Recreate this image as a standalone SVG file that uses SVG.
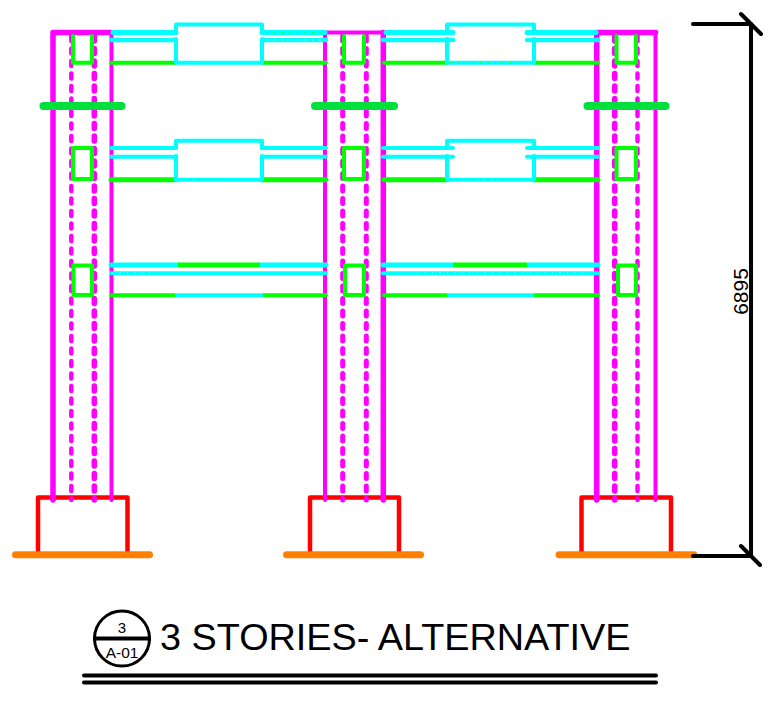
<svg xmlns="http://www.w3.org/2000/svg" width="780" height="709" viewBox="0 0 780 709">
<defs><style>
.l{fill:none;stroke-linecap:round;stroke-linejoin:round}
.m{stroke:#ff00ff}
.d{stroke:#ff00ff;stroke-dasharray:5 7.500}
.c{stroke:#00ffff}
.g{stroke:#00ff00}
.s{stroke:#00e03c;stroke-width:8}
.r{stroke:#ff0000;stroke-width:4.500}
.o{stroke:#ff8000;stroke-width:7}
.k{stroke:#000}
.t{font-family:"Liberation Sans",Arial,sans-serif;fill:#000}
.tc{stroke:#00ff00;stroke-width:1;stroke-dasharray:1 6.500;fill:none}
.tw{stroke:#fff;stroke-width:1;stroke-dasharray:1 6.500;fill:none}
</style></defs>
<rect width="780" height="709" fill="#fff"/>
<g id="footings" class="l">
<path class="r" d="M38 553V497.500H127.500V553"/>
<path class="r" d="M310 553V497.500H399V553"/>
<path class="r" d="M581.500 553V497.500H671V553"/>
</g>
<g id="columns" class="l">
<g id="column-1">
<path class="m" stroke-width="5.500" d="M53 500V32.500H111"/>
<path class="m" stroke-width="4" d="M111.500 32.500V500"/>
<path class="d" stroke-width="4.500" d="M71.300 36V500"/>
<path class="d" stroke-width="5.500" d="M94.300 36V500"/>
</g>
<g id="column-2">
<path class="m" stroke-width="4" d="M325 500V32.500H384"/>
<path class="m" stroke-width="5.500" d="M383.300 32.500V500"/>
<path class="d" stroke-width="5" d="M342.700 36V500"/>
<path class="d" stroke-width="5" d="M366.300 36V500"/>
</g>
<g id="column-3">
<path class="m" stroke-width="5.500" d="M596.700 500V32.500H655.500"/>
<path class="m" stroke-width="4" d="M655.500 32.500V500"/>
<path class="d" stroke-width="5.500" d="M614.700 36V500"/>
<path class="d" stroke-width="4.500" d="M637.500 36V500"/>
</g>
</g>
<g id="beam-boxes" class="l g">
<path stroke-width="4" d="M73 36V62.700H92V36"/>
<path stroke-width="4" d="M73 148H92V179H73Z"/>
<path stroke-width="4" d="M73.500 265.500H92V295H73.500Z"/>
<path stroke-width="4" d="M344 36V62.700H364V36"/>
<path stroke-width="4" d="M344 148H364V179H344Z"/>
<path stroke-width="4" d="M345 265.500H364V295H345Z"/>
<path stroke-width="4" d="M616.500 36V62.700H636V36"/>
<path stroke-width="4" d="M616.500 148H636V179H616.500Z"/>
<path stroke-width="4" d="M618 265.500H636V295H618Z"/>
</g>
<g id="floor-1" class="l">
<path class="g" stroke-width="4" d="M111 62.700H176M262 62.700H326M384 62.700H447M534 62.700H598"/>
<path class="c" stroke-width="4" d="M176 39V62.700H262V39M447 39V62.700H534V39"/>
<path class="c" stroke-width="4" d="M176 32V24.500H262V32M447 32V24.500H534V32"/>
<path class="c" stroke-width="5" d="M113 32.500H176M262 32.500H325M386 32.500H453M527 32.500H596"/>
<path class="c" stroke-width="4.500" d="M111 40H176M262 40H326M383 40H453M527 40H598"/>
</g>
<g id="floor-2" class="l">
<path class="g" stroke-width="5" d="M111 179.700H176M262 179.700H326M384 179.700H447M534 179.700H598"/>
<path class="c" stroke-width="4" d="M176 156V179.700H262V156M447 156V179.700H534V156"/>
<path class="c" stroke-width="4" d="M176 148V140.700H262V148M447 148V140.700H534V148"/>
<path class="c" stroke-width="4" d="M111 148H176M262 148H326M383 148H453M527 148H598"/>
<path class="c" stroke-width="4" d="M111 156.700H176M262 156.700H326M383 156.700H453M527 156.700H598"/>
</g>
<g id="floor-3" class="l">
<path class="c" stroke-width="5" d="M111 265H178M260 265H326M383 265H453M527 265H598"/>
<path class="g" stroke-width="5" style="stroke-linecap:butt" d="M178 265H260M453 265H527"/>
<path class="c" stroke-width="4" d="M111 273.300H326M383 273.300H598"/>
<path class="g" stroke-width="4" d="M111 295.300H175M263 295.300H326M384 295.300H447M534 295.300H598"/>
<path class="c" stroke-width="4" style="stroke-linecap:butt" d="M175 295.300H263M447 295.300H534"/>
</g>
<g id="slab-marks">
<path class="tc" d="M267 32.500H322M450 62.700H530M191 179.700H225M450 179.700H530"/>
<path class="tw" d="M267 40H322M112 273.300H153M417 273.300H590"/>
</g>
<g id="levels" class="l">
<path class="s" d="M43.500 106H121.500"/>
<path class="s" d="M315 106H394"/>
<path class="s" d="M587.500 106H665.500"/>
</g>
<g id="grade" class="l">
<path class="o" d="M15.500 554.700H149.500"/>
<path class="o" d="M286.500 554.700H420.500"/>
<path class="o" d="M559 554.700H694"/>
</g>
<g id="dimension" class="l k">
<path stroke-width="4" d="M693 24H751V556H693"/>
<path stroke-width="4" d="M741 14L761 34M741 546L760 565"/>
<text class="t" transform="translate(748 291.500) rotate(-90)" font-size="21" text-anchor="middle" style="stroke:none">6895</text>
</g>
<g id="title">
<g id="view-marker">
<circle cx="122" cy="638.500" r="27.500" fill="none" stroke="#000" stroke-width="3"/>
<path d="M93 638.500H151" fill="none" stroke="#000" stroke-width="4"/>
<text class="t" x="122" y="633" font-size="15" text-anchor="middle">3</text>
<text class="t" x="122" y="658" font-size="15.500" text-anchor="middle">A-01</text>
</g>
<text class="t" x="160" y="650" font-size="37.800">3 STORIES- ALTERNATIVE</text>
<path class="l k" stroke-width="4" d="M84 675.500H656M84 682.500H656"/>
</g>
</svg>
